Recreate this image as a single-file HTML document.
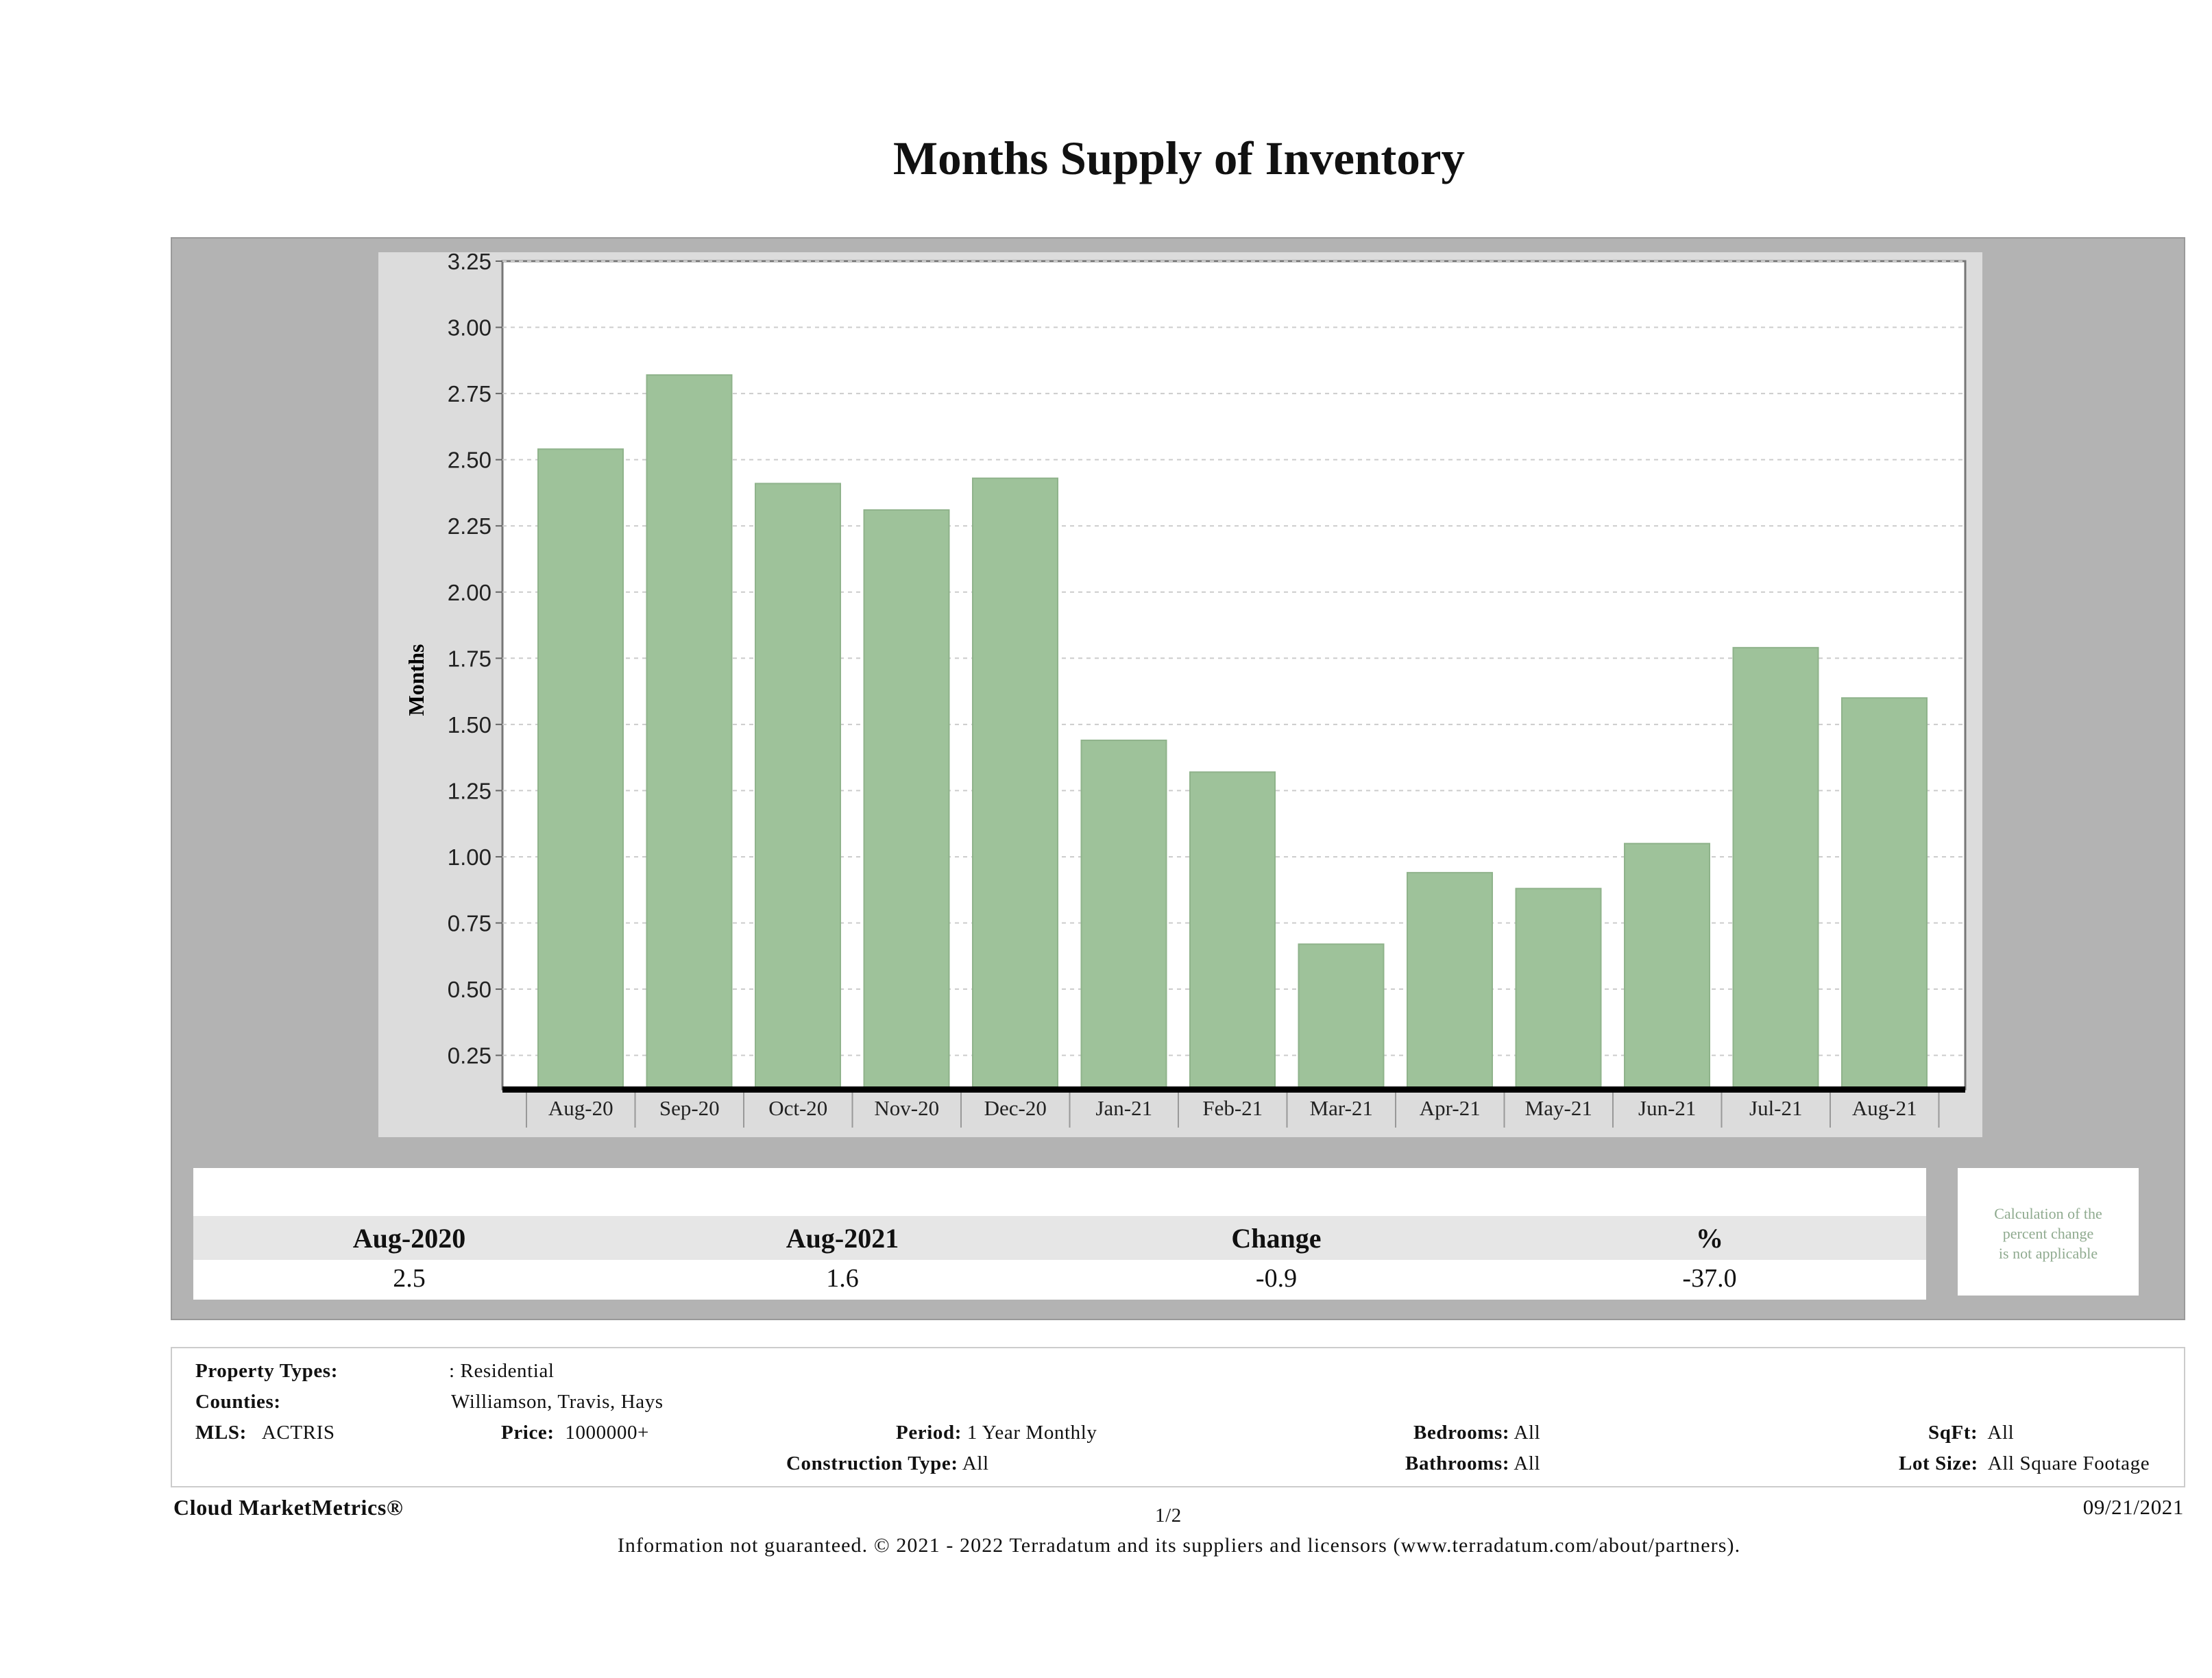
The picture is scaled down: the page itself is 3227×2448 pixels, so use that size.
<!DOCTYPE html>
<html><head><meta charset="utf-8"><style>
body{margin:0;width:3227px;height:2448px;background:#fff;position:relative;overflow:hidden;font-family:"Liberation Serif",serif;color:#111}
.a{position:absolute}
.info{font-size:29px;white-space:nowrap;letter-spacing:0.6px}
.b{font-weight:bold}
</style></head><body>
<div class="a b" style="left:0;width:3440px;top:192px;text-align:center;font-size:69px">Months Supply of Inventory</div>
<div class="a" style="left:249px;top:346px;width:2935px;height:1576px;background:#b3b3b3;border:2px solid #999"></div>
<svg class="a" style="left:0;top:0" width="3227" height="1700" id="chart"></svg>
<div class="a" style="left:282px;top:1704px;width:2528px;height:70px;background:#fff"></div>
<div class="a" style="left:282px;top:1774px;width:2528px;height:64px;background:#e6e6e6"></div>
<div class="a" style="left:282px;top:1838px;width:2528px;height:58px;background:#fff"></div>
<div class="a b" style="left:397px;width:400px;top:1783px;text-align:center;font-size:40px">Aug-2020</div>
<div class="a b" style="left:1029px;width:400px;top:1783px;text-align:center;font-size:40px">Aug-2021</div>
<div class="a b" style="left:1662px;width:400px;top:1783px;text-align:center;font-size:40px">Change</div>
<div class="a b" style="left:2294px;width:400px;top:1783px;text-align:center;font-size:40px">%</div>
<div class="a" style="left:397px;width:400px;top:1843px;text-align:center;font-size:38px">2.5</div>
<div class="a" style="left:1029px;width:400px;top:1843px;text-align:center;font-size:38px">1.6</div>
<div class="a" style="left:1662px;width:400px;top:1843px;text-align:center;font-size:38px">-0.9</div>
<div class="a" style="left:2294px;width:400px;top:1843px;text-align:center;font-size:38px">-37.0</div>
<div class="a" style="left:2856px;top:1704px;width:264px;height:186px;background:#fff;color:#8faa8f;font-size:22px;text-align:center;line-height:29px;padding-top:52px;box-sizing:border-box">Calculation of the<br>percent change<br>is not applicable</div>
<div class="a" style="left:249px;top:1965px;width:2935px;height:201px;border:2px solid #ccc"></div>
<div class="a info b" style="left:285px;top:1984px">Property Types:</div>
<div class="a info" style="left:655px;top:1984px">: Residential</div>
<div class="a info b" style="left:285px;top:2029px">Counties:</div>
<div class="a info" style="left:658px;top:2029px">Williamson, Travis, Hays</div>
<div class="a info" style="left:285px;top:2074px"><b>MLS:</b>&nbsp;&nbsp; ACTRIS</div>
<div class="a info" style="left:731px;top:2074px"><b>Price:</b>&nbsp; 1000000+</div>
<div class="a info" style="left:1307px;top:2074px"><b>Period:</b> 1 Year Monthly</div>
<div class="a info" style="left:2062px;top:2074px"><b>Bedrooms:</b> All</div>
<div class="a info" style="left:2813px;top:2074px"><b>SqFt:</b>&nbsp; All</div>
<div class="a info" style="left:1147px;top:2119px"><b>Construction Type:</b> All</div>
<div class="a info" style="left:2050px;top:2119px"><b>Bathrooms:</b> All</div>
<div class="a info" style="left:2770px;top:2119px"><b>Lot Size:</b>&nbsp; All Square Footage</div>
<div class="a info b" style="left:253px;top:2181px;font-size:32px">Cloud MarketMetrics®</div>
<div class="a info" style="left:1685px;top:2195px">1/2</div>
<div class="a info" style="right:41px;top:2181px;font-size:31px">09/21/2021</div>
<div class="a info" style="left:0;width:3440px;text-align:center;top:2238px;font-size:30px;letter-spacing:1.1px">Information not guaranteed. © 2021 - 2022 Terradatum and its suppliers and licensors (www.terradatum.com/about/partners).</div>
<script>
const categories=["Aug-20","Sep-20","Oct-20","Nov-20","Dec-20","Jan-21","Feb-21","Mar-21","Apr-21","May-21","Jun-21","Jul-21","Aug-21"];
const values=[2.54,2.82,2.41,2.31,2.43,1.44,1.32,0.67,0.94,0.88,1.05,1.79,1.60];
const yTicks=[0.25,0.5,0.75,1.0,1.25,1.5,1.75,2.0,2.25,2.5,2.75,3.0,3.25];
const NS="http://www.w3.org/2000/svg";
const svg=document.getElementById('chart');
const PL=733,PR=2867,PT=381,PB=1589,Y0=381,YS=386.2,BX=768,BW=158.5;
function y(v){return Y0+(3.25-v)*YS;}
function x(i){return BX+BW*i;}
function mk(t,a,p){const e=document.createElementNS(NS,t);for(const k in a)e.setAttribute(k,a[k]);(p||svg).appendChild(e);return e;}
let r=mk('rect',{x:552,y:368,width:2340,height:1291,fill:'#dcdcdc'});


r=mk('rect',{x:PL,y:PT,width:PR-PL,height:PB-PT,fill:'#fff',stroke:'#777','stroke-width':3});


yTicks.forEach(v=>{
  const g=mk('line',{x1:PL,x2:PR,y1:y(v),y2:y(v),stroke:'#ccc','stroke-width':2,'stroke-dasharray':'6 6'});
  
  
  mk('line',{x1:PL-10,x2:PL,y1:y(v),y2:y(v),stroke:'#666','stroke-width':2});
  const t=mk('text',{x:PL-16,y:y(v)+12,'text-anchor':'end','font-family':'Liberation Sans, sans-serif','font-size':33,fill:'#222'});
  t.textContent=v.toFixed(2);
  
  
});
values.forEach((v,i)=>{
  const b=mk('rect',{x:x(i)+17,y:y(v),width:124,height:PB-y(v),fill:'#9ec29a',stroke:'#8fb38b','stroke-width':2});
  
  
  const t=mk('text',{x:x(i)+BW/2,y:1627,'text-anchor':'middle','font-size':31,fill:'#222','font-family':'Liberation Serif, serif'});
  t.textContent=categories[i];
  
  
  mk('line',{x1:x(i),x2:x(i),y1:PB,y2:1645,stroke:'#999','stroke-width':2});
});
mk('line',{x1:x(13),x2:x(13),y1:PB,y2:1645,stroke:'#999','stroke-width':2});
r=mk('rect',{x:PL,y:PB-4,width:PR-PL,height:9,fill:'#000'});


const yt=mk('text',{x:0,y:0,transform:'translate(618,992) rotate(-90)','text-anchor':'middle','font-size':32,'font-weight':'bold','font-family':'Liberation Serif, serif'});
yt.textContent='Months';


</script>
</body></html>
